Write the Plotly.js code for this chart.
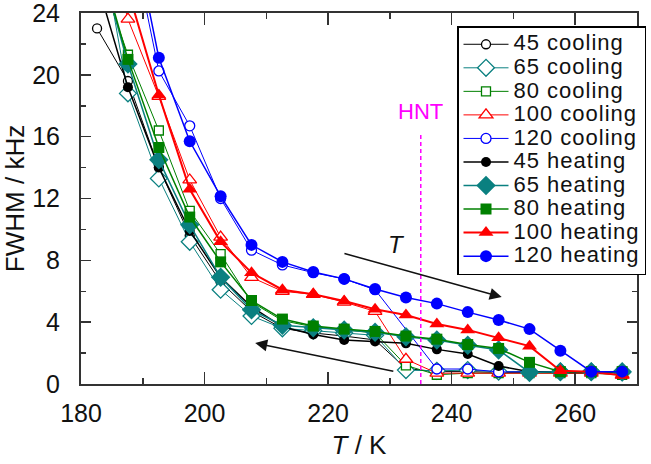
<!DOCTYPE html>
<html><head><meta charset="utf-8">
<script src="https://cdn.plot.ly/plotly-3.0.1.min.js"></script>
<style>html,body{margin:0;padding:0;background:#fff}</style>
</head><body><div id="chart" style="width:651px;height:464px"></div>
<script>
// Temperature (K)
const temperatures = [182.6,187.6,192.6,197.6,202.6,207.6,212.6,217.6,222.6,227.6,232.6,237.6,242.6,247.6,252.6,257.6,262.6,267.6];
// FWHM (kHz)
const cool45  = [23.0, 19.6, 14.0, 9.6, 6.6, 4.7, 3.6, 3.3, 3.1, 2.85, 1.0, 0.8, 0.8, 0.75, 0.75, 0.75, 0.75, 0.75];
const cool65  = [30.0, 18.8, 13.3, 9.2, 6.1, 4.4, 3.6, 3.45, 3.3, 3.15, 0.9, 0.85, 0.9, 0.8, 0.8, 0.8, 0.8, 0.75];
const cool80  = [27.0, 21.3, 16.4, 11.2, 8.4, 5.3, 4.1, 3.7, 3.5, 3.3, 1.2, 0.6, 0.7, 0.7, 0.7, 0.7, 0.7, 0.6];
const cool100 = [31.0, 23.6, 18.6, 13.2, 9.5, 6.9, 6.0, 5.8, 5.3, 4.7, 1.6, 0.7, 0.7, 0.7, 0.7, 0.7, 0.7, 0.6];
const cool120 = [35.0, 30.0, 20.25, 16.7, 12.0, 8.66, 7.7, 7.2, 6.8, 6.1, null, 0.97, 0.97, 0.78, 0.8, 0.8, 0.8, 0.8];
const heat45  = [26.0, 19.2, 14.0, 9.9, 6.9, 5.0, 3.7, 3.2, 2.85, 2.75, 2.63, 2.24, 1.94, 1.16, 0.8, 0.75, 0.75, 0.75];
const heat65  = [28.0, 20.7, 14.5, 10.3, 6.9, 4.8, 3.8, 3.64, 3.5, 3.35, 3.05, 2.85, 2.5, 2.2, 0.75, 0.8, 0.8, 0.8];
const heat80  = [28.0, 21.0, 15.3, 10.8, 7.9, 5.4, 4.2, 3.75, 3.55, 3.4, 3.1, 2.9, 2.55, 2.3, 1.4, 0.8, 0.8, 0.8];
const heat100 = [33.0, 25.5, 18.7, 12.6, 9.2, 7.2, 6.1, 5.8, 5.37, 4.83, 4.46, 3.88, 3.5, 3.0, 2.45, 0.86, 0.8, 0.55];
const heat120 = [37.0, 31.0, 21.1, 15.7, 12.15, 9.0, 7.9, 7.24, 6.8, 6.15, 5.6, 5.2, 4.65, 4.14, 3.55, 2.15, 0.8, 0.8];

const seriesNames = ['45 cooling','65 cooling','80 cooling','100 cooling','120 cooling',
                     '45 heating','65 heating','80 heating','100 heating','120 heating'];
const seriesValues = [cool45, cool65, cool80, cool100, cool120, heat45, heat65, heat80, heat100, heat120];

const HNT_T = 235;        // K
const HNT_TOP = 16.3;     // kHz, top of the dashed marker line
const arrowUp = {head: [248.1, 5.62], tail: [222.4, 8.47]};
const arrowDown = {head: [208.2, 2.65], tail: [230.8, 0.80]};

const TEAL = '#0a8080', GREEN = '#008000', RED = '#ff0000', BLUE = '#0000ff', BLACK = '#000000';
const styles = [
  {c: BLACK, s: 'circle', sz: 9,  open: true,  lw: 1},
  {c: TEAL,  s: 'diamond', sz: 13, open: true,  lw: 1},
  {c: GREEN, s: 'square', sz: 9,  open: true,  lw: 1},
  {c: RED,   s: 'triangle-up', sz: 12, open: true, lw: 1},
  {c: BLUE,  s: 'circle', sz: 10, open: true,  lw: 1},
  {c: BLACK, s: 'circle', sz: 10, open: false, lw: 1.5},
  {c: TEAL,  s: 'diamond', sz: 15, open: false, lw: 1.5},
  {c: GREEN, s: 'square', sz: 11, open: false, lw: 1.5},
  {c: RED,   s: 'triangle-up', sz: 13, open: false, lw: 2},
  {c: BLUE,  s: 'circle', sz: 12, open: false, lw: 1.5}
];

const traces = seriesValues.map((vals, i) => {
  const st = styles[i];
  return {
    type: 'scatter', mode: 'lines+markers',
    x: temperatures, y: vals, connectgaps: true,
    name: '<span style="font-size:22px;letter-spacing:1px">' + seriesNames[i] + '</span>',
    line: {color: st.c, width: st.lw},
    marker: {symbol: st.s, size: st.sz,
             color: st.open ? '#ffffff' : st.c,
             line: {color: st.c, width: st.open ? 1.3 : 0}},
    cliponaxis: true
  };
});

const M = {l: 81, r: 14, t: 13, b: 80, autoexpand: false};
const W = 651, H = 464;
const pw = W - M.l - M.r, ph = H - M.t - M.b;
const px2x = p => (p - M.l) / pw;
const px2y = p => 1 - (p - M.t) / ph;

const FONT = 'Liberation Sans, Arial, sans-serif';
const axisCommon = {
  showgrid: false, zeroline: false, showline: true, linewidth: 2, linecolor: '#333',
  mirror: 'ticks', ticks: 'inside', tickwidth: 1.5, tickcolor: '#333',
  ticklabeloverflow: 'allow',
  tickfont: {family: FONT, size: 25, color: '#111'}
};

const layout = {
  width: W, height: H, margin: M,
  paper_bgcolor: '#fff', plot_bgcolor: '#fff',
  font: {family: FONT, color: '#111'},
  showlegend: true,
  xaxis: Object.assign({}, axisCommon, {
    range: [180, 270], tick0: 180, dtick: 20, ticklen: 12, ticklabelstandoff: 6,
    minor: {dtick: 10, ticklen: 6, ticks: 'inside', tickwidth: 1.5, tickcolor: '#333'},
    title: {text: '<i>T</i> / K', font: {family: FONT, size: 26, color: '#111'}, standoff: 10}
  }),
  yaxis: Object.assign({}, axisCommon, {
    range: [0, 24], tick0: 0, dtick: 4, ticklen: 10, ticklabelstandoff: 14,
    minor: {dtick: 2, ticklen: 5, ticks: 'inside', tickwidth: 1.5, tickcolor: '#333'},
    title: {text: 'FWHM / kHz', font: {family: FONT, size: 26, color: '#111'}, standoff: 6}
  }),
  legend: {
    x: px2x(457), y: px2y(26), xanchor: 'left', yanchor: 'top',
    bgcolor: '#fff', bordercolor: '#000', borderwidth: 1.5,
    font: {family: FONT, size: 15.8, color: '#111'},
    itemwidth: 45, tracegroupgap: 0
  },
  shapes: [
    {type: 'line', xref: 'x', yref: 'y', x0: HNT_T, x1: HNT_T, y0: 0, y1: HNT_TOP,
     line: {color: '#ff00ff', width: 1.5, dash: '4px,3px'}, layer: 'above'},
    // drop shadow of the legend box
    {type: 'rect', xref: 'paper', yref: 'paper',
     x0: px2x(461), x1: px2x(645), y0: px2y(274), y1: px2y(31),
     fillcolor: '#000', line: {width: 0}, layer: 'above'}
  ],
  annotations: [
    {xref: 'x', yref: 'y', x: HNT_T, y: 17.6, text: 'HNT', showarrow: false,
     font: {family: FONT, size: 22, color: '#ff00ff'}},
    {xref: 'x', yref: 'y', x: 231.1, y: 9.05, text: '<i>T</i>', showarrow: false,
     font: {family: FONT, size: 24, color: '#111'}},
    {xref: 'x', yref: 'y', axref: 'x', ayref: 'y',
     x: arrowUp.head[0], y: arrowUp.head[1], ax: arrowUp.tail[0], ay: arrowUp.tail[1],
     text: '', showarrow: true, arrowhead: 2, arrowsize: 1.6, arrowwidth: 1.5, arrowcolor: '#111'},
    {xref: 'x', yref: 'y', axref: 'x', ayref: 'y',
     x: arrowDown.head[0], y: arrowDown.head[1], ax: arrowDown.tail[0], ay: arrowDown.tail[1],
     text: '', showarrow: true, arrowhead: 2, arrowsize: 1.6, arrowwidth: 1.5, arrowcolor: '#111'}
  ]
};

Plotly.newPlot('chart', traces, layout, {staticPlot: true, displayModeBar: false});
</script></body></html>
